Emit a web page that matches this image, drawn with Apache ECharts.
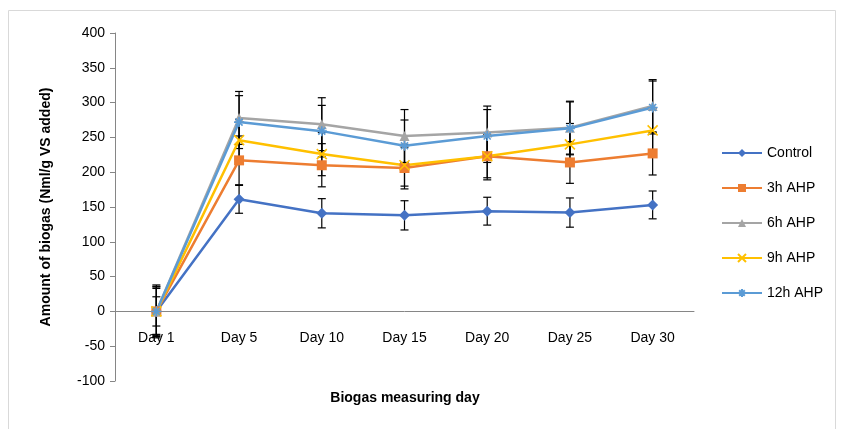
<!DOCTYPE html>
<html>
<head>
<meta charset="utf-8">
<script src="https://cdn.jsdelivr.net/npm/echarts@6/dist/echarts.min.js"></script>
<style>html,body{margin:0;padding:0;background:#fff}#c{width:843px;height:429px}</style>
</head>
<body>
<div id="c"></div>
<script>
var categories = ['Day 1','Day 5','Day 10','Day 15','Day 20','Day 25','Day 30'];
var seriesNames = ['Control','3h AHP','6h AHP','9h AHP','12h AHP'];
var control = [0,161,141,138,144,142,153];
var ahp3 = [0,217,210,206,223,214,227];
var ahp6 = [0,278,269,252,257,264,295];
var ahp9 = [0,246,226,210,223,240,260];
var ahp12 = [0,272,259,238,252,263,293];
var errControl = [21,20,21,21,20,21,20];
var err3 = [36,35,31,30,34,30,31];
var err6 = [38,38,38,38,38,38,38];
var err9 = [33,30,31,30,31,30,31];
var err12 = [35,38,37,37,38,38,38];
var yTicks = {min:-100, max:400, interval:50};

var colors = ['#4472C4','#ED7D31','#A5A5A5','#FFC000','#5B9BD5'];
var symbols = ['diamond','rect','triangle','path://M0,0L10,10M10,0L0,10','path://M5,0L5,10M0,5L10,5M1.5,1.5L8.5,8.5M8.5,1.5L1.5,8.5'];
var symSizes = [11,10,10,10,10];
var values = [control, ahp3, ahp6, ahp9, ahp12];
var errs = [errControl, err3, err6, err9, err12];

var gridTop = 33, gridBottom = 48, plotH = 429 - gridTop - gridBottom;
var zeroOffset = -plotH * (0 - yTicks.min) / (yTicks.max - yTicks.min);

var series = [];
values.forEach(function(v, i){
  var ed = v.map(function(val, j){ return [j, val - errs[i][j], val + errs[i][j]]; });
  series.push({
    type:'custom', name: seriesNames[i] + ' err', z: 1, silent:true,
    data: ed,
    renderItem: function(params, api){
      var x = api.value(0), lo = api.value(1), hi = api.value(2);
      var p1 = api.coord([x, hi]), p2 = api.coord([x, lo]);
      var w = 4;
      var st = {stroke:'#000', lineWidth:1.2};
      return {type:'group', children:[
        {type:'line', shape:{x1:p1[0],y1:p1[1],x2:p2[0],y2:p2[1]}, style:st},
        {type:'line', shape:{x1:p1[0]-w,y1:p1[1],x2:p1[0]+w,y2:p1[1]}, style:st},
        {type:'line', shape:{x1:p2[0]-w,y1:p2[1],x2:p2[0]+w,y2:p2[1]}, style:st}
      ]};
    },
    encode:{x:0, y:[1,2]}
  });
});
values.forEach(function(v, i){
  var isStroke = i >= 3;
  series.push({
    type:'line', name: seriesNames[i], data: v, z: 3,
    symbol: symbols[i], symbolSize: symSizes[i],
    lineStyle:{color: colors[i], width: 2.5},
    itemStyle:{color: isStroke ? 'rgba(0,0,0,0)' : colors[i], borderColor: colors[i], borderWidth: isStroke ? 1.6 : 0},
    emphasis:{disabled:true}, animation:false
  });
});

var chart = echarts.init(document.getElementById('c'), null, {renderer:'canvas'});
chart.setOption({
  animation:false,
  color: colors,
  grid:{left:115, right:149, top:gridTop, bottom:gridBottom, containLabel:false},
  xAxis:{
    type:'category', data: categories, boundaryGap:true,
    position:'bottom', offset: zeroOffset,
    axisLine:{onZero:false, lineStyle:{color:'#868686', width:1}},
    axisTick:{show:false},
    axisLabel:{color:'#000', fontSize:14, fontFamily:'Liberation Sans, Arial', margin:20}
  },
  yAxis:{
    type:'value', min:yTicks.min, max:yTicks.max, interval:yTicks.interval,
    splitLine:{show:false},
    axisLine:{show:true, lineStyle:{color:'#868686'}},
    axisTick:{show:true, length:5, lineStyle:{color:'#868686'}},
    axisLabel:{color:'#000', fontSize:14, fontFamily:'Liberation Sans, Arial', margin:10},
    name:'Amount of biogas (Nml/g VS added)', nameLocation:'middle', nameGap:62, nameRotate:90,
    nameTextStyle:{color:'#000', fontSize:14, fontWeight:'bold', fontFamily:'Liberation Sans, Arial'}
  },
  legend:{
    data: seriesNames, orient:'vertical', left:716, top:141, itemGap:21, itemWidth:40, itemHeight:10,
    textStyle:{color:'#000', fontSize:14, fontFamily:'Liberation Sans, Arial'}
  },
  graphic:[
    {type:'rect', shape:{x:8.5, y:10.5, width:827, height:420}, style:{fill:'none', stroke:'#D9D9D9', lineWidth:1}, silent:true},
    {type:'text', x:405, y:398, style:{text:'Biogas measuring day', fill:'#000', font:'bold 14px Liberation Sans, Arial', align:'center', verticalAlign:'middle'}}
  ],
  series: series
});
</script>
</body>
</html>
